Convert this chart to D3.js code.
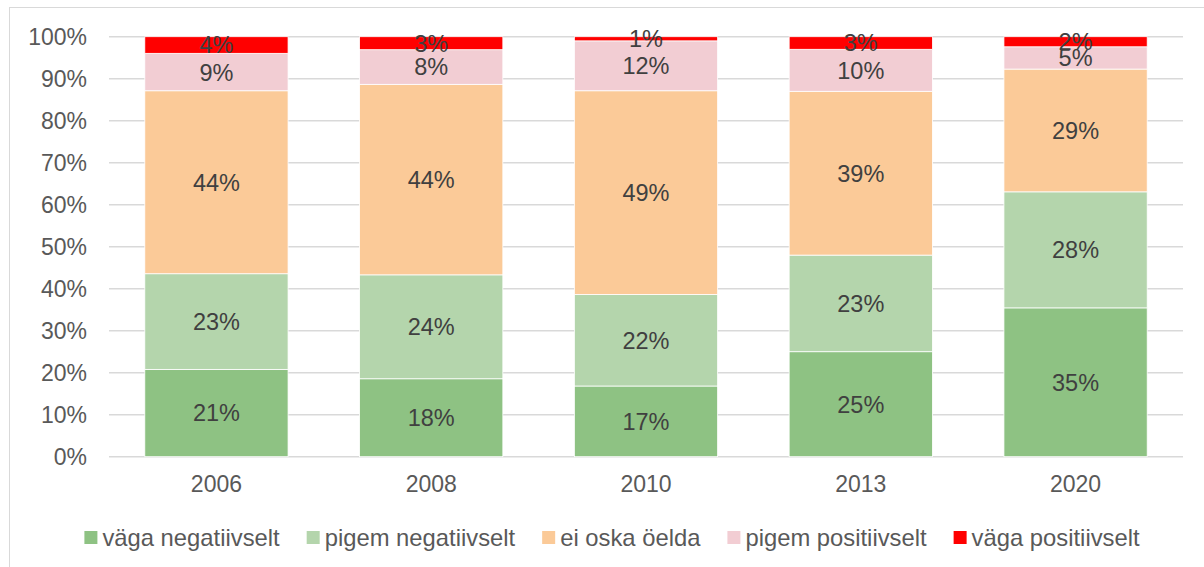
<!DOCTYPE html>
<html>
<head>
<meta charset="utf-8">
<script src="https://cdn.jsdelivr.net/npm/d3@7"></script>
<style>
  body { margin: 0; background: #fff; }
  svg text { font-family: "Liberation Sans", Arial, sans-serif; }
</style>
</head>
<body>
<div id="chart"></div>
<script>
// years on the x axis
var years = ["2006", "2008", "2010", "2013", "2020"];

// answer shares per year (%), as labelled on the bars
var vagaNegatiivselt   = [21, 18, 17, 25, 35.4];
var pigemNegatiivselt  = [23, 24, 22, 23, 27.6];
var eiOskaOelda        = [44, 44, 49, 39, 29.2];
var pigemPositiivselt  = [9, 8, 12, 10, 5.3];
var vagaPositiivselt   = [4, 3, 1, 3, 2.4];

var seriesNames = ["väga negatiivselt", "pigem negatiivselt", "ei oska öelda", "pigem positiivselt", "väga positiivselt"];
var seriesValues = [vagaNegatiivselt, pigemNegatiivselt, eiOskaOelda, pigemPositiivselt, vagaPositiivselt];
var seriesColors = ["#8ec283", "#b4d5ac", "#fbca98", "#f2cdd3", "#ff0000"];

var yTicks = [0, 0.1, 0.2, 0.3, 0.4, 0.5, 0.6, 0.7, 0.8, 0.9, 1];

// build rows for d3.stack
var rows = years.map(function(yr, i) {
  var r = { year: yr };
  seriesNames.forEach(function(name, s) { r[name] = seriesValues[s][i]; });
  return r;
});

var W = 1204, H = 567;
var plot = { left: 109, right: 1183, top: 36.7, bottom: 456.7 };

var svg = d3.select("#chart").append("svg")
  .attr("width", W)
  .attr("height", H);

// chart frame
svg.append("rect")
  .attr("x", 9.5).attr("y", 7.5)
  .attr("width", 1220).attr("height", 600)
  .attr("fill", "none")
  .attr("stroke", "#d9d9d9")
  .attr("stroke-width", 1);

var x = d3.scaleBand()
  .domain(years)
  .range([plot.left, plot.right])
  .paddingInner(0.333)
  .paddingOuter(0.1667);

var y = d3.scaleLinear()
  .domain([0, 1])
  .range([plot.bottom, plot.top]);

// gridlines
svg.append("g")
  .selectAll("line")
  .data(yTicks)
  .enter()
  .append("line")
    .attr("x1", plot.left)
    .attr("x2", plot.right)
    .attr("y1", function(d) { return y(d); })
    .attr("y2", function(d) { return y(d); })
    .attr("stroke", "#d9d9d9")
    .attr("stroke-width", 1.5);

// y axis labels
var yAxis = svg.append("g")
  .attr("transform", "translate(" + plot.left + ",0)")
  .call(d3.axisLeft(y).tickValues(yTicks).tickFormat(d3.format(".0%")).tickSize(0).tickPadding(22));
yAxis.select(".domain").remove();
yAxis.selectAll("text")
  .attr("fill", "#595959")
  .style("font-size", "23px");

// x axis labels
var xAxis = svg.append("g")
  .attr("transform", "translate(0," + plot.bottom + ")")
  .call(d3.axisBottom(x).tickSize(0).tickPadding(19));
xAxis.select(".domain").remove();
xAxis.selectAll("text")
  .attr("fill", "#595959")
  .style("font-size", "23px");

// stacked bars (100%)
var stacked = d3.stack()
  .keys(seriesNames)
  .offset(d3.stackOffsetExpand)(rows);

var layers = svg.append("g")
  .selectAll("g")
  .data(stacked)
  .enter()
  .append("g")
    .attr("fill", function(d, i) { return seriesColors[i]; });

layers.selectAll("rect")
  .data(function(d) { return d; })
  .enter()
  .append("rect")
    .attr("x", function(d) { return x(d.data.year); })
    .attr("width", x.bandwidth())
    .attr("y", function(d) { return y(d[1]); })
    .attr("height", function(d) { return y(d[0]) - y(d[1]); })
    .attr("stroke", "#ffffff")
    .attr("stroke-width", 0.8);

// data labels (centred in each segment, like the original)
stacked.forEach(function(layer) {
  svg.append("g")
    .selectAll("text")
    .data(layer)
    .enter()
    .append("text")
      .attr("x", function(d) { return x(d.data.year) + x.bandwidth() / 2; })
      .attr("y", function(d) { return (y(d[0]) + y(d[1])) / 2; })
      .attr("dy", "0.36em")
      .attr("text-anchor", "middle")
      .attr("fill", "#404040")
      .style("font-size", "23.5px")
      .text(function(d) { return Math.round(d.data[layer.key]) + "%"; });
});

// legend
var legend = svg.append("g");
var lx = 0;
seriesNames.forEach(function(name, i) {
  var g = legend.append("g");
  g.append("rect")
    .attr("x", 0).attr("y", -6.5)
    .attr("width", 13).attr("height", 13)
    .attr("fill", seriesColors[i]);
  var t = g.append("text")
    .attr("x", 18)
    .attr("dy", "0.36em")
    .attr("fill", "#595959")
    .style("font-size", "23.8px")
    .text(name);
  var w = 18 + t.node().getComputedTextLength();
  g.attr("transform", "translate(" + lx + ",0)");
  lx += w + 27;
});
var legendWidth = lx - 27;
legend.attr("transform", "translate(" + (612 - legendWidth / 2) + ",537.5)");
</script>
</body>
</html>
